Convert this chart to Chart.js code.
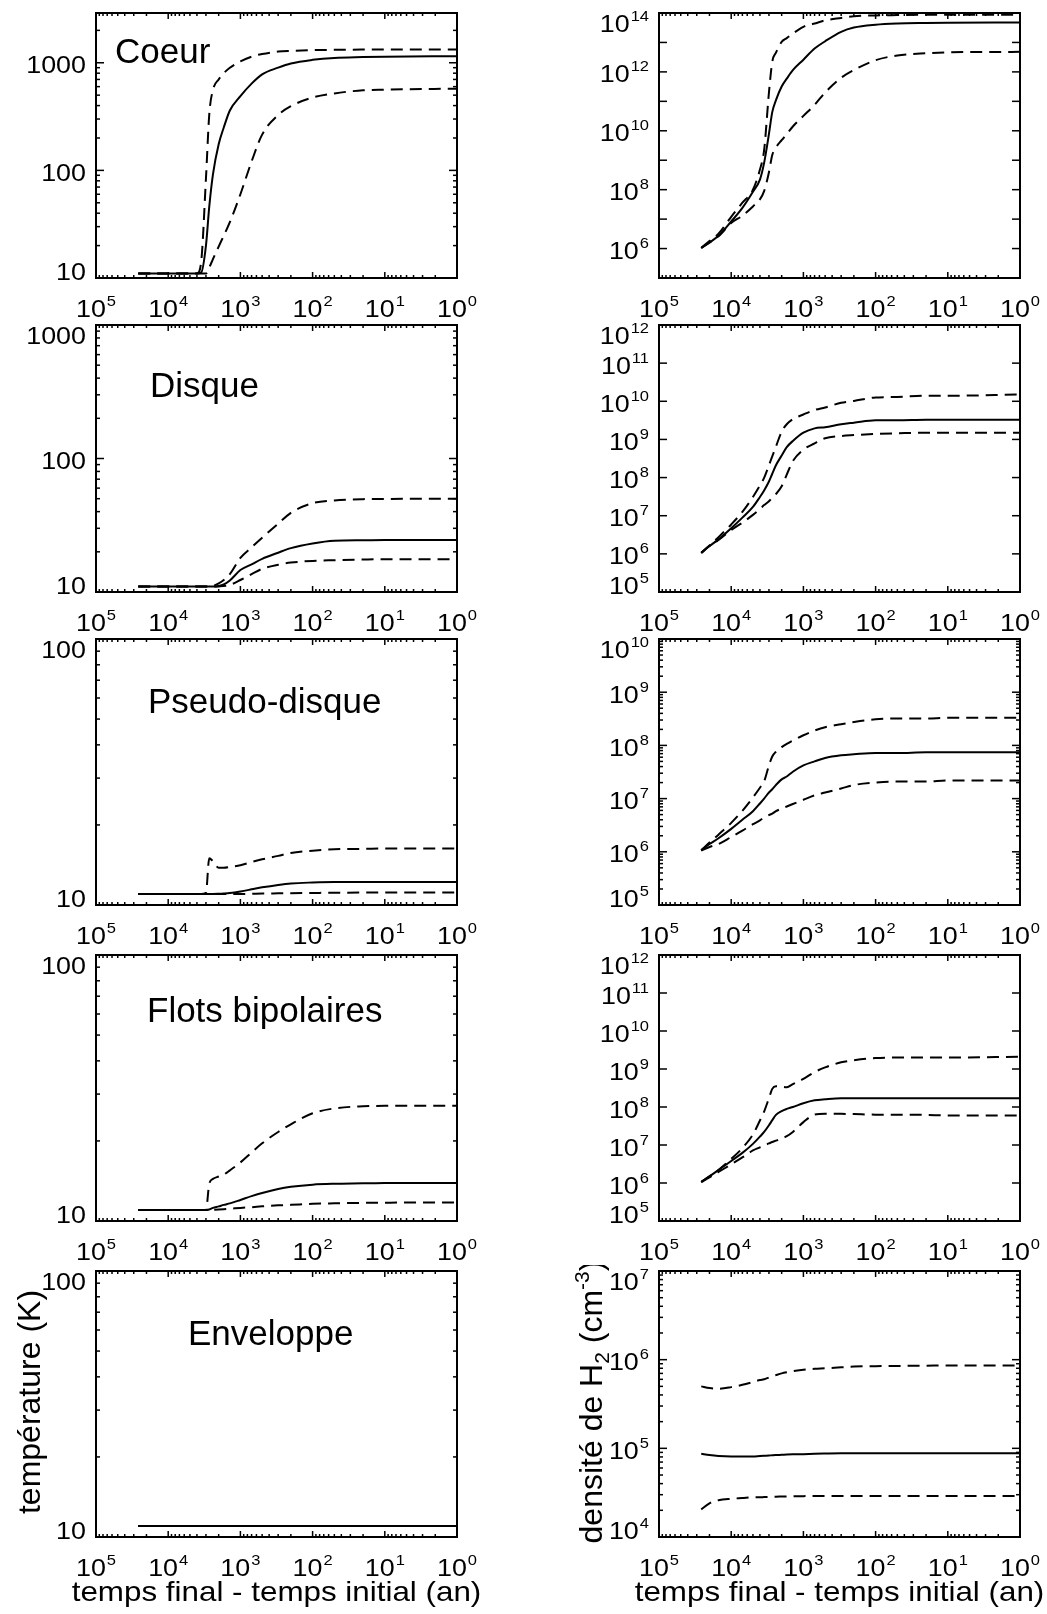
<!DOCTYPE html>
<html>
<head>
<meta charset="utf-8">
<script src="https://cdn.jsdelivr.net/npm/chart.js@4.4.1/dist/chart.umd.min.js"></script>
<style>
  body { margin: 0; background: #fff; }
  #fig { position: relative; width: 1047px; height: 1614px; }
  #fig canvas { position: absolute; }
</style>
</head>
<body>
<div id="fig"></div>
<script>
// temps final - temps initial (an), commun a toutes les courbes
var temps = [26000, 20000, 15000, 10000, 7000, 5000, 4000, 3500, 3000, 2700, 2400, 2000, 1700, 1400, 1000, 700, 500, 300, 200, 100, 50, 20, 10, 1];

// Coeur
var coeurTMoy  = [11, 11, 11, 11, 11, 11, 11, 11.2, 20, 46, 92, 175, 250, 360, 490, 640, 780, 900, 985, 1065, 1110, 1130, 1140, 1150];
var coeurTHaut = [11, 11, 11, 11, 11, 11, 11, 14, 84, 330, 560, 700, 800, 900, 1028, 1141, 1206, 1270, 1290, 1310, 1320, 1325, 1327, 1327];
var coeurTBas  = [11, 11, 11, 11, 11, 11, 11, 11, 11, 12.5, 15, 19.6, 24.7, 33, 60, 121, 215, 327, 395, 475, 519, 555, 562, 575];
var coeurNMoy  = [1.05e6, 1.6e6, 2.7e6, 8.3e6, 2.4e7, 8.5e7, 2.2e8, 8.1e8, 7.8e9, 4.3e10, 1.1e11, 3.2e11, 5.9e11, 1.15e12, 2.6e12, 6.2e12, 1.1e13, 2.3e13, 3.2e13, 4.0e13, 4.4e13, 4.6e13, 4.7e13, 4.8e13];
var coeurNHaut = [1.05e6, 1.8e6, 3.2e6, 1.2e7, 3.6e7, 1.0e8, 4.8e8, 2.2e9, 2.0e11, 2.2e12, 4.5e12, 1.05e13, 1.4e13, 2.0e13, 3.4e13, 4.4e13, 5.6e13, 6.8e13, 7.8e13, 8.3e13, 8.5e13, 8.7e13, 8.7e13, 8.7e13];
var coeurNBas  = [1.05e6, 1.6e6, 2.6e6, 7.4e6, 1.3e7, 2.7e7, 4.7e7, 8.9e7, 3.9e8, 1.5e9, 2.7e9, 4.8e9, 7.8e9, 1.4e10, 3.2e10, 7.6e10, 2.0e11, 6.3e11, 1.15e12, 2.5e12, 3.6e12, 4.3e12, 4.6e12, 4.8e12];

// Disque
var disqueTMoy  = [11, 11, 11, 11, 11, 11, 11, 11, 11, 11, 11, 11.1, 11.4, 12.2, 14.6, 16.1, 17.7, 19.7, 21.3, 23.1, 24.2, 24.4, 24.5, 24.5];
var disqueTHaut = [11, 11, 11, 11, 11, 11, 11, 11, 11, 11, 11.1, 11.6, 12.3, 13.6, 18, 21.6, 25.5, 32.5, 39.2, 46.3, 48.5, 49.6, 49.8, 50];
var disqueTBas  = [11, 11, 11, 11, 11, 11, 11, 11, 11, 11, 11, 11, 11.1, 11.3, 12.3, 13.6, 14.9, 16.0, 16.6, 17.1, 17.3, 17.5, 17.6, 17.6];
var disqueNMoy  = [1.07e6, 1.6e6, 2.4e6, 4.7e6, 8.9e6, 1.7e7, 3.1e7, 4.6e7, 7.9e7, 1.26e8, 2.1e8, 3.8e8, 6.3e8, 9.1e8, 1.5e9, 1.95e9, 2.1e9, 2.5e9, 2.75e9, 3.2e9, 3.2e9, 3.3e9, 3.3e9, 3.3e9];
var disqueNHaut = [1.07e6, 1.66e6, 2.75e6, 5.9e6, 1.26e7, 3.1e7, 6.2e7, 9.8e7, 2.1e8, 3.6e8, 6.5e8, 1.6e9, 2.5e9, 3.4e9, 4.5e9, 5.9e9, 6.9e9, 9.1e9, 1.02e10, 1.26e10, 1.3e10, 1.4e10, 1.4e10, 1.5e10];
var disqueNBas  = [1.05e6, 1.6e6, 2.3e6, 4.2e6, 6.6e6, 1.05e7, 1.5e7, 1.9e7, 2.4e7, 3.0e7, 3.7e7, 5.9e7, 1.2e8, 2.7e8, 5.4e8, 7.9e8, 1.07e9, 1.23e9, 1.3e9, 1.4e9, 1.45e9, 1.5e9, 1.5e9, 1.5e9];

// Pseudo-disque
var pseudoTMoy  = [11, 11, 11, 11, 11, 11, 11, 11, 11, 11, 11, 11.02, 11.05, 11.1, 11.25, 11.45, 11.65, 11.9, 12.05, 12.15, 12.2, 12.2, 12.2, 12.2];
var pseudoTHaut = [11, 11, 11, 11, 11, 11, 11, 11, 11.1, 15.0, 14.6, 13.8, 13.8, 13.9, 14.1, 14.5, 14.85, 15.3, 15.7, 16.0, 16.2, 16.25, 16.3, 16.3];
var pseudoTBas  = [11, 11, 11, 11, 11, 11, 11, 11, 11, 11, 11, 11, 11, 11, 11, 11.02, 11.04, 11.06, 11.08, 11.1, 11.12, 11.14, 11.15, 11.15];
var pseudoNMoy  = [1.07e6, 1.4e6, 1.8e6, 2.7e6, 4.0e6, 5.8e6, 8.1e6, 1.0e7, 1.3e7, 1.5e7, 1.8e7, 2.3e7, 2.6e7, 3.2e7, 4.2e7, 5.0e7, 5.8e7, 6.5e7, 6.8e7, 7.2e7, 7.2e7, 7.4e7, 7.4e7, 7.4e7];
var pseudoNHaut = [1.07e6, 1.5e6, 2.1e6, 3.5e6, 5.9e6, 1.05e7, 1.6e7, 2.1e7, 4.2e7, 6.2e7, 7.6e7, 9.3e7, 1.07e8, 1.23e8, 1.55e8, 1.9e8, 2.2e8, 2.5e8, 2.75e8, 3.1e8, 3.2e8, 3.2e8, 3.3e8, 3.3e8];
var pseudoNBas  = [1.05e6, 1.23e6, 1.4e6, 1.9e6, 2.5e6, 3.3e6, 3.9e6, 4.4e6, 4.9e6, 5.2e6, 5.8e6, 6.5e6, 7.1e6, 7.9e6, 9.5e6, 1.15e7, 1.3e7, 1.55e7, 1.8e7, 2.0e7, 2.1e7, 2.1e7, 2.2e7, 2.2e7];

// Flots bipolaires
var flotsTMoy  = [11, 11, 11, 11, 11, 11, 11, 11, 11, 11.05, 11.2, 11.35, 11.5, 11.65, 12.0, 12.4, 12.75, 13.2, 13.45, 13.7, 13.8, 13.85, 13.9, 13.9];
var flotsTHaut = [11, 11, 11, 11, 11, 11, 11, 11, 11, 13.8, 14.4, 14.7, 14.95, 15.5, 16.6, 18.1, 19.6, 21.6, 23.1, 25.4, 26.5, 27.0, 27.1, 27.1];
var flotsTBas  = [11, 11, 11, 11, 11, 11, 11, 11, 11, 11, 11.02, 11.05, 11.08, 11.12, 11.2, 11.27, 11.35, 11.45, 11.5, 11.6, 11.65, 11.7, 11.72, 11.75];
var flotsNMoy  = [1.07e6, 1.5e6, 2.2e6, 3.8e6, 6.2e6, 1.07e7, 1.66e7, 2.2e7, 3.3e7, 4.5e7, 6.2e7, 7.8e7, 8.9e7, 1.0e8, 1.26e8, 1.5e8, 1.6e8, 1.7e8, 1.7e8, 1.7e8, 1.7e8, 1.7e8, 1.7e8, 1.7e8];
var flotsNHaut = [1.07e6, 1.5e6, 2.2e6, 4.3e6, 8.3e6, 1.9e7, 4.4e7, 7.6e7, 1.7e8, 3.0e8, 3.5e8, 3.4e8, 3.3e8, 4.0e8, 5.5e8, 8.3e8, 1.1e9, 1.5e9, 1.7e9, 1.95e9, 2.0e9, 2.0e9, 2.0e9, 2.1e9];
var flotsNBas  = [1.05e6, 1.4e6, 1.95e6, 3.1e6, 4.7e6, 7.2e6, 8.7e6, 9.8e6, 1.1e7, 1.2e7, 1.3e7, 1.5e7, 1.7e7, 2.2e7, 4.0e7, 6.3e7, 6.6e7, 6.6e7, 6.5e7, 6.3e7, 6.3e7, 6.2e7, 6.0e7, 6.0e7];

// Enveloppe
var envTMoy  = [11, 11, 11, 11, 11, 11, 11, 11, 11, 11, 11, 11, 11, 11, 11, 11, 11, 11, 11, 11, 11, 11, 11, 11];
var envTHaut = [11, 11, 11, 11, 11, 11, 11, 11, 11, 11, 11, 11, 11, 11, 11, 11, 11, 11, 11, 11, 11, 11, 11, 11];
var envTBas  = [11, 11, 11, 11, 11, 11, 11, 11, 11, 11, 11, 11, 11, 11, 11, 11, 11, 11, 11, 11, 11, 11, 11, 11];
var envNMoy  = [8.7e4, 8.4e4, 8.2e4, 8.1e4, 8.1e4, 8.1e4, 8.2e4, 8.25e4, 8.3e4, 8.35e4, 8.4e4, 8.45e4, 8.5e4, 8.55e4, 8.6e4, 8.7e4, 8.75e4, 8.8e4, 8.8e4, 8.8e4, 8.8e4, 8.8e4, 8.8e4, 8.8e4];
var envNHaut = [5.0e5, 4.8e5, 4.7e5, 4.9e5, 5.2e5, 5.6e5, 5.9e5, 6.0e5, 6.3e5, 6.5e5, 6.7e5, 7.0e5, 7.2e5, 7.4e5, 7.7e5, 7.9e5, 8.0e5, 8.2e5, 8.35e5, 8.45e5, 8.5e5, 8.55e5, 8.6e5, 8.6e5];
var envNBas  = [2.05e4, 2.4e4, 2.6e4, 2.7e4, 2.75e4, 2.8e4, 2.8e4, 2.82e4, 2.83e4, 2.84e4, 2.85e4, 2.86e4, 2.87e4, 2.88e4, 2.89e4, 2.9e4, 2.9e4, 2.9e4, 2.9e4, 2.9e4, 2.9e4, 2.9e4, 2.9e4, 2.9e4];

// tick labels
var ticksT3 = [10, 100, 1000];
var ticksT2 = [10, 100];
var expCoeur = [6, 8, 10, 12, 14];
var exp5a12 = [5, 6, 7, 8, 9, 10, 11, 12];
var exp5a10 = [5, 6, 7, 8, 9, 10];
var exp4a7 = [4, 5, 6, 7];
var expTemps = [0, 1, 2, 3, 4, 5];

var FONT = '"Liberation Sans", Arial, Helvetica, sans-serif';

// layout of the 5 rows (page pixels)
var rangs = [
  { titre: 'Coeur', tx: 19, ty: 50, haut: 13, h: 265, T: [coeurTMoy, coeurTHaut, coeurTBas], N: [coeurNMoy, coeurNHaut, coeurNBas],
    tMax: 2900, tLab: ticksT3, nMin: 1e5, nMax: 1e14, nExp: expCoeur, nMineurs: false },
  { titre: 'Disque', tx: 54, ty: 72, haut: 325, h: 267, T: [disqueTMoy, disqueTHaut, disqueTBas], N: [disqueNMoy, disqueNHaut, disqueNBas],
    tMax: 1000, tLab: ticksT3, nMin: 1e5, nMax: 1e12, nExp: exp5a12, nMineurs: false },
  { titre: 'Pseudo-disque', tx: 52, ty: 74, haut: 639, h: 266, T: [pseudoTMoy, pseudoTHaut, pseudoTBas], N: [pseudoNMoy, pseudoNHaut, pseudoNBas],
    tMax: 100, tLab: ticksT2, nMin: 1e5, nMax: 1e10, nExp: exp5a10, nMineurs: true },
  { titre: 'Flots bipolaires', tx: 51, ty: 67, haut: 955, h: 266, T: [flotsTMoy, flotsTHaut, flotsTBas], N: [flotsNMoy, flotsNHaut, flotsNBas],
    tMax: 100, tLab: ticksT2, nMin: 1e5, nMax: 1e12, nExp: exp5a12, nMineurs: false },
  { titre: 'Enveloppe', tx: 92, ty: 74, haut: 1271, h: 266, T: [envTMoy, envTHaut, envTBas], N: [envNMoy, envNHaut, envNBas],
    tMax: 100, tLab: ticksT2, nMin: 1e4, nMax: 1e7, nExp: exp4a7, nMineurs: true }
];

function trait(ctx, x1, y1, x2, y2) {
  ctx.beginPath(); ctx.moveTo(x1, y1); ctx.lineTo(x2, y2); ctx.stroke();
}

// slightly widened text (the figure's lettering is wide)
function largeur(ctx, s, taille, hs) {
  ctx.font = taille + 'px ' + FONT;
  return ctx.measureText(s).width * hs;
}
function texte(ctx, s, x, y, taille, hs) {
  ctx.save();
  ctx.font = taille + 'px ' + FONT;
  ctx.textAlign = 'left';
  ctx.textBaseline = 'alphabetic';
  ctx.translate(x, y);
  ctx.scale(hs, 1);
  ctx.fillText(s, 0, 0);
  ctx.restore();
}

// "10" with a raised exponent, yc = vertical middle of the digits
function puissance(ctx, exp, x, yc, align) {
  var wb = largeur(ctx, '10', 24, 1.12);
  var we = largeur(ctx, String(exp), 15, 1.1);
  var w = wb + 1 + we;
  var x0 = align === 'right' ? x - w : x - w / 2;
  texte(ctx, '10', x0, yc + 8.5, 24, 1.12);
  texte(ctx, String(exp), x0 + wb + 1, yc - 2.5, 15, 1.1);
}

// IDL-like frame: inward ticks on four sides, labels, titles
var cadreIDL = {
  id: 'cadreIDL',
  afterDraw: function (chart, args, o) {
    var ctx = chart.ctx, a = chart.chartArea, sx = chart.scales.x, sy = chart.scales.y;
    ctx.save();
    ctx.strokeStyle = '#000';
    ctx.fillStyle = '#000';
    ctx.lineWidth = 1.5;

    var k, m, v, p, L;
    for (k = 0; k <= 5; k++) {
      for (m = 1; m <= 9; m++) {
        v = m * Math.pow(10, k);
        if (v > 1e5) break;
        p = sx.getPixelForValue(v);
        L = m === 1 ? 6 : 3;
        trait(ctx, p, a.bottom, p, a.bottom - L);
        trait(ctx, p, a.top, p, a.top + L);
      }
    }
    var lo = Math.floor(Math.log10(sy.min)), hi = Math.ceil(Math.log10(sy.max));
    for (k = lo; k <= hi; k++) {
      for (m = 1; m <= 9; m++) {
        if (m > 1 && !o.mineurs) break;
        v = m * Math.pow(10, k);
        if (v < sy.min * 0.999 || v > sy.max * 1.001) continue;
        p = sy.getPixelForValue(v);
        L = m === 1 ? 8 : 4;
        trait(ctx, a.left, p, a.left + L, p);
        trait(ctx, a.right, p, a.right - L, p);
      }
    }
    ctx.lineWidth = 2;
    ctx.strokeRect(a.left, a.top, a.right - a.left, a.bottom - a.top);

    expTemps.forEach(function (e) {
      puissance(ctx, e, sx.getPixelForValue(Math.pow(10, e)), a.bottom + 30, 'center');
    });

    o.etiquettes.forEach(function (val) {
      var py = sy.getPixelForValue(val);
      var yc = Math.min(Math.max(py + 2, a.top + 10), a.bottom - 7);
      if (o.exposants) {
        puissance(ctx, Math.round(Math.log10(val)), a.left - 10, yc, 'right');
      } else {
        var s = String(val);
        texte(ctx, s, a.left - 10 - largeur(ctx, s, 24, 1.12), yc + 8.5, 24, 1.12);
      }
    });

    if (o.titre) {
      ctx.font = '35px ' + FONT;
      ctx.textAlign = 'left';
      ctx.textBaseline = 'alphabetic';
      ctx.fillText(o.titre, a.left + o.tx, a.top + o.ty);
    }

    if (o.titreX) {
      var wx = largeur(ctx, o.titreX, 28, 1.12);
      texte(ctx, o.titreX, (a.left + a.right) / 2 - wx / 2, a.bottom + 64, 28, 1.12);
    }

    if (o.titreY) {
      ctx.save();
      ctx.translate(o.titreYx, (a.top + a.bottom) / 2 - 2);
      ctx.rotate(-Math.PI / 2);
      ctx.textAlign = 'left';
      ctx.textBaseline = 'alphabetic';
      var w = 0;
      o.titreY.forEach(function (q) { ctx.font = q[1] + 'px ' + FONT; w += ctx.measureText(q[0]).width; });
      var x = -w / 2;
      o.titreY.forEach(function (q) {
        ctx.font = q[1] + 'px ' + FONT;
        ctx.fillText(q[0], x, q[2]);
        x += ctx.measureText(q[0]).width;
      });
      ctx.restore();
    }
    ctx.restore();
  }
};

function serie(vals) {
  return temps.map(function (t, i) { return { x: t, y: vals[i] }; });
}

function jeux(trio) {
  return trio.map(function (vals, i) {
    return {
      data: serie(vals),
      borderColor: '#000',
      borderWidth: 2,
      borderDash: i === 0 ? [] : [12, 7],
      pointRadius: 0,
      fill: false,
      cubicInterpolationMode: 'monotone'
    };
  });
}

var fig = document.getElementById('fig');

function panneau(left, top, width, height, pad, trio, yMin, yMax, opts) {
  var c = document.createElement('canvas');
  c.width = width; c.height = height;
  c.style.left = left + 'px'; c.style.top = top + 'px';
  c.style.width = width + 'px'; c.style.height = height + 'px';
  fig.appendChild(c);
  new Chart(c, {
    type: 'line',
    data: { datasets: jeux(trio) },
    plugins: [cadreIDL],
    options: {
      responsive: false,
      animation: false,
      devicePixelRatio: 1,
      layout: { padding: pad },
      scales: {
        x: { type: 'logarithmic', min: 1, max: 1e5, reverse: true, display: false },
        y: { type: 'logarithmic', min: yMin, max: yMax, display: false }
      },
      plugins: { legend: { display: false }, tooltip: { enabled: false }, cadreIDL: opts }
    }
  });
}

rangs.forEach(function (r, i) {
  var top = r.haut - 6;
  var bas = i < rangs.length - 1 ? rangs[i + 1].haut - 6 : 1614;
  var H = bas - top;
  var padB = H - 6 - r.h;
  var dernier = i === rangs.length - 1;

  panneau(0, top, 540, H, { left: 96, right: 83, top: 6, bottom: padB }, r.T, 10, r.tMax, {
    mineurs: true, exposants: false, etiquettes: r.tLab,
    titre: r.titre, tx: r.tx, ty: r.ty,
    titreX: dernier ? 'temps final - temps initial (an)' : null,
    titreY: dernier ? [['température (K)', 32, 0]] : null, titreYx: 40
  });

  panneau(560, top, 487, H, { left: 99, right: 27, top: 6, bottom: padB }, r.N, r.nMin, r.nMax, {
    mineurs: r.nMineurs, exposants: true,
    etiquettes: r.nExp.map(function (e) { return Math.pow(10, e); }),
    titre: null,
    titreX: dernier ? 'temps final - temps initial (an)' : null,
    titreY: dernier ? [['densité de H', 32, 0], ['2', 21, 7], [' (cm', 32, 0], ['-3', 21, -13], [')', 32, 0]] : null,
    titreYx: 42
  });
});
</script>
</body>
</html>
